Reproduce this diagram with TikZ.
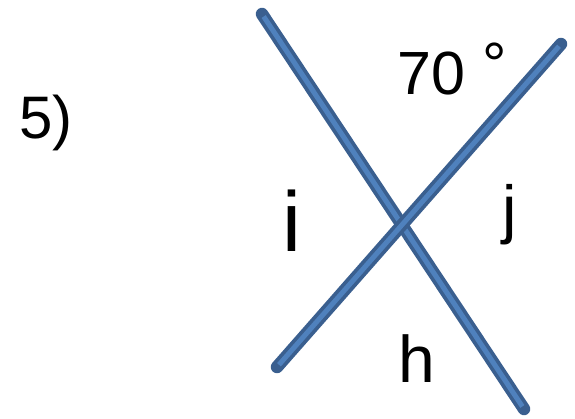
\documentclass[tikz,border=0pt]{standalone}
\usepackage{fontspec}
\setmainfont{Liberation Sans}
\definecolor{lineout}{HTML}{3A5F8F}
\definecolor{linein}{HTML}{4F81BD}
\begin{document}
\begin{tikzpicture}[x=1pt,y=-1pt,
  outerline/.style={draw=lineout,line width=12.5pt,line cap=round},
  innerline/.style={draw=linein,line width=5pt,shorten <=3pt,shorten >=3pt},
  lbl/.style={inner sep=0pt,anchor=base,text=black}]
\useasboundingbox (0,0) rectangle (575,419);
\coordinate (a1) at (262,14);
\coordinate (a2) at (524,409);
\coordinate (b1) at (277,367);
\coordinate (b2) at (561,44);
\draw[outerline] (a1) -- (a2);
\draw[innerline] (a1) -- (a2);
\draw[outerline] (b1) -- (b2);
\draw[innerline] (b1) -- (b2);
\node[lbl,anchor=base west,font=\fontsize{60}{66}\selectfont] (n5) at (19,139) {5)};
\node[lbl,anchor=base west,font=\fontsize{61}{70}\selectfont] (n70) at (397,95) {70 \raisebox{9pt}{°}};
\node[lbl,font=\fontsize{85}{95}\selectfont] (ni) at (292,252) {i};
\node[lbl,font=\fontsize{65}{75}\selectfont] (nj) at (510,232) {j};
\node[lbl,font=\fontsize{66}{75}\selectfont] (nh) at (417,382) {h};
\end{tikzpicture}
\end{document}
